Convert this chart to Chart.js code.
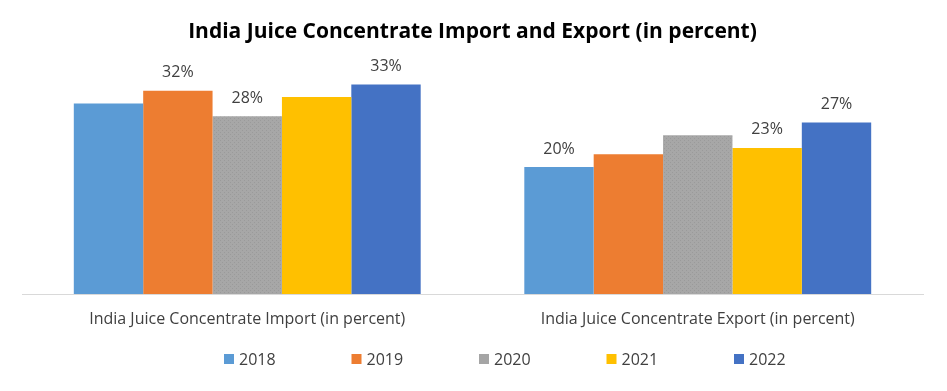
<!DOCTYPE html>
<html>
<head>
<meta charset="utf-8">
<script src="https://cdn.jsdelivr.net/npm/chart.js@4.4.0/dist/chart.umd.min.js"></script>
<style>
    html, body { margin: 0; padding: 0; background: #fff; }
    #wrap { width: 947px; height: 391px; position: relative; }
</style>
</head>
<body>
<div id="wrap"><canvas id="juiceChart"></canvas></div>
<script>
const categories = [
    "India Juice Concentrate Import (in percent)",
    "India Juice Concentrate Export (in percent)",
];
const years = ["2018", "2019", "2020", "2021", "2022"];
const values2018 = [30, 20];
const values2019 = [32, 22];
const values2020 = [28, 25];
const values2021 = [31, 23];
const values2022 = [33, 27];
// which bars carry a value label, per category
const labeledImport = ["2019", "2020", "2022"];
const labeledExport = ["2018", "2021", "2022"];

const FONT = "'Open Sans', sans-serif";
const TEXT_COLOR = "#404040";

// gray bar in the original has a fine dotted texture
const makeDotPattern = () => {
    const c = document.createElement("canvas");
    c.width = 4;
    c.height = 4;
    const ctx = c.getContext("2d");
    ctx.fillStyle = "#a7a7a7";
    ctx.fillRect(0, 0, 4, 4);
    ctx.fillStyle = "#9a9a9a";
    ctx.fillRect(0, 0, 1, 1);
    ctx.fillRect(2, 2, 1, 1);
    return ctx.createPattern(c, "repeat");
};

const seriesColors = ["#5b9bd5", "#ed7d31", makeDotPattern(), "#ffc000", "#4472c4"];
const legendColors = ["#5b9bd5", "#ed7d31", "#a5a5a5", "#ffc000", "#4472c4"];
const seriesValues = [values2018, values2019, values2020, values2021, values2022];

const datasets = years.map((year, i) => ({
    label: year,
    data: seriesValues[i],
    backgroundColor: seriesColors[i],
    borderWidth: 0,
    barPercentage: 1,
    categoryPercentage: 0.77,
}));

const valueLabels = {
    id: "valueLabels",
    afterDatasetsDraw(chart) {
        const ctx = chart.ctx;
        ctx.save();
        ctx.font = "16px " + FONT;
        ctx.fillStyle = TEXT_COLOR;
        ctx.textAlign = "center";
        ctx.textBaseline = "middle";
        chart.data.datasets.forEach((ds, di) => {
            chart.getDatasetMeta(di).data.forEach((bar, ci) => {
                const wanted = ci === 0 ? labeledImport : labeledExport;
                if (!wanted.includes(ds.label)) return;
                ctx.fillText(ds.data[ci] + "%", bar.x, bar.y - 18);
            });
        });
        ctx.restore();
    },
};

// legend drawn by hand so the wide item spacing of the original can be kept
const wideLegend = {
    id: "wideLegend",
    afterDraw(chart) {
        const ctx = chart.ctx;
        const left = chart.chartArea.left + 202;
        const y = 359;
        ctx.save();
        ctx.font = "16px " + FONT;
        ctx.textBaseline = "middle";
        years.forEach((year, i) => {
            const x = left + i * 127.5;
            ctx.fillStyle = legendColors[i];
            ctx.fillRect(x, y - 5, 10, 10);
            ctx.fillStyle = TEXT_COLOR;
            ctx.fillText(year, x + 15, y + 1);
        });
        ctx.restore();
    },
};

new Chart(document.getElementById("juiceChart"), {
    type: "bar",
    data: { labels: categories, datasets: datasets },
    plugins: [valueLabels, wideLegend],
    options: {
        responsive: true,
        maintainAspectRatio: false,
        animation: false,
        layout: { padding: { left: 22, right: 24, top: 0, bottom: 63 } },
        scales: {
            x: {
                grid: { display: false, drawTicks: false },
                border: { display: true, color: "#d9d9d9", width: 1 },
                ticks: {
                    color: TEXT_COLOR,
                    font: { family: FONT, size: 16 },
                    padding: 16,
                    maxRotation: 0,
                },
                afterFit: (scale) => { scale.height = 34; },
            },
            y: {
                display: false,
                min: 0,
                max: 40,
            },
        },
        plugins: {
            legend: { display: false },
            tooltip: { enabled: false },
            title: {
                display: true,
                text: "India Juice Concentrate Import and Export (in percent)",
                color: "#000",
                font: { family: FONT, size: 21, weight: "bold", lineHeight: 0.76 },
                padding: { top: 24, bottom: 0 },
            },
        },
    },
});
</script>
</body>
</html>
